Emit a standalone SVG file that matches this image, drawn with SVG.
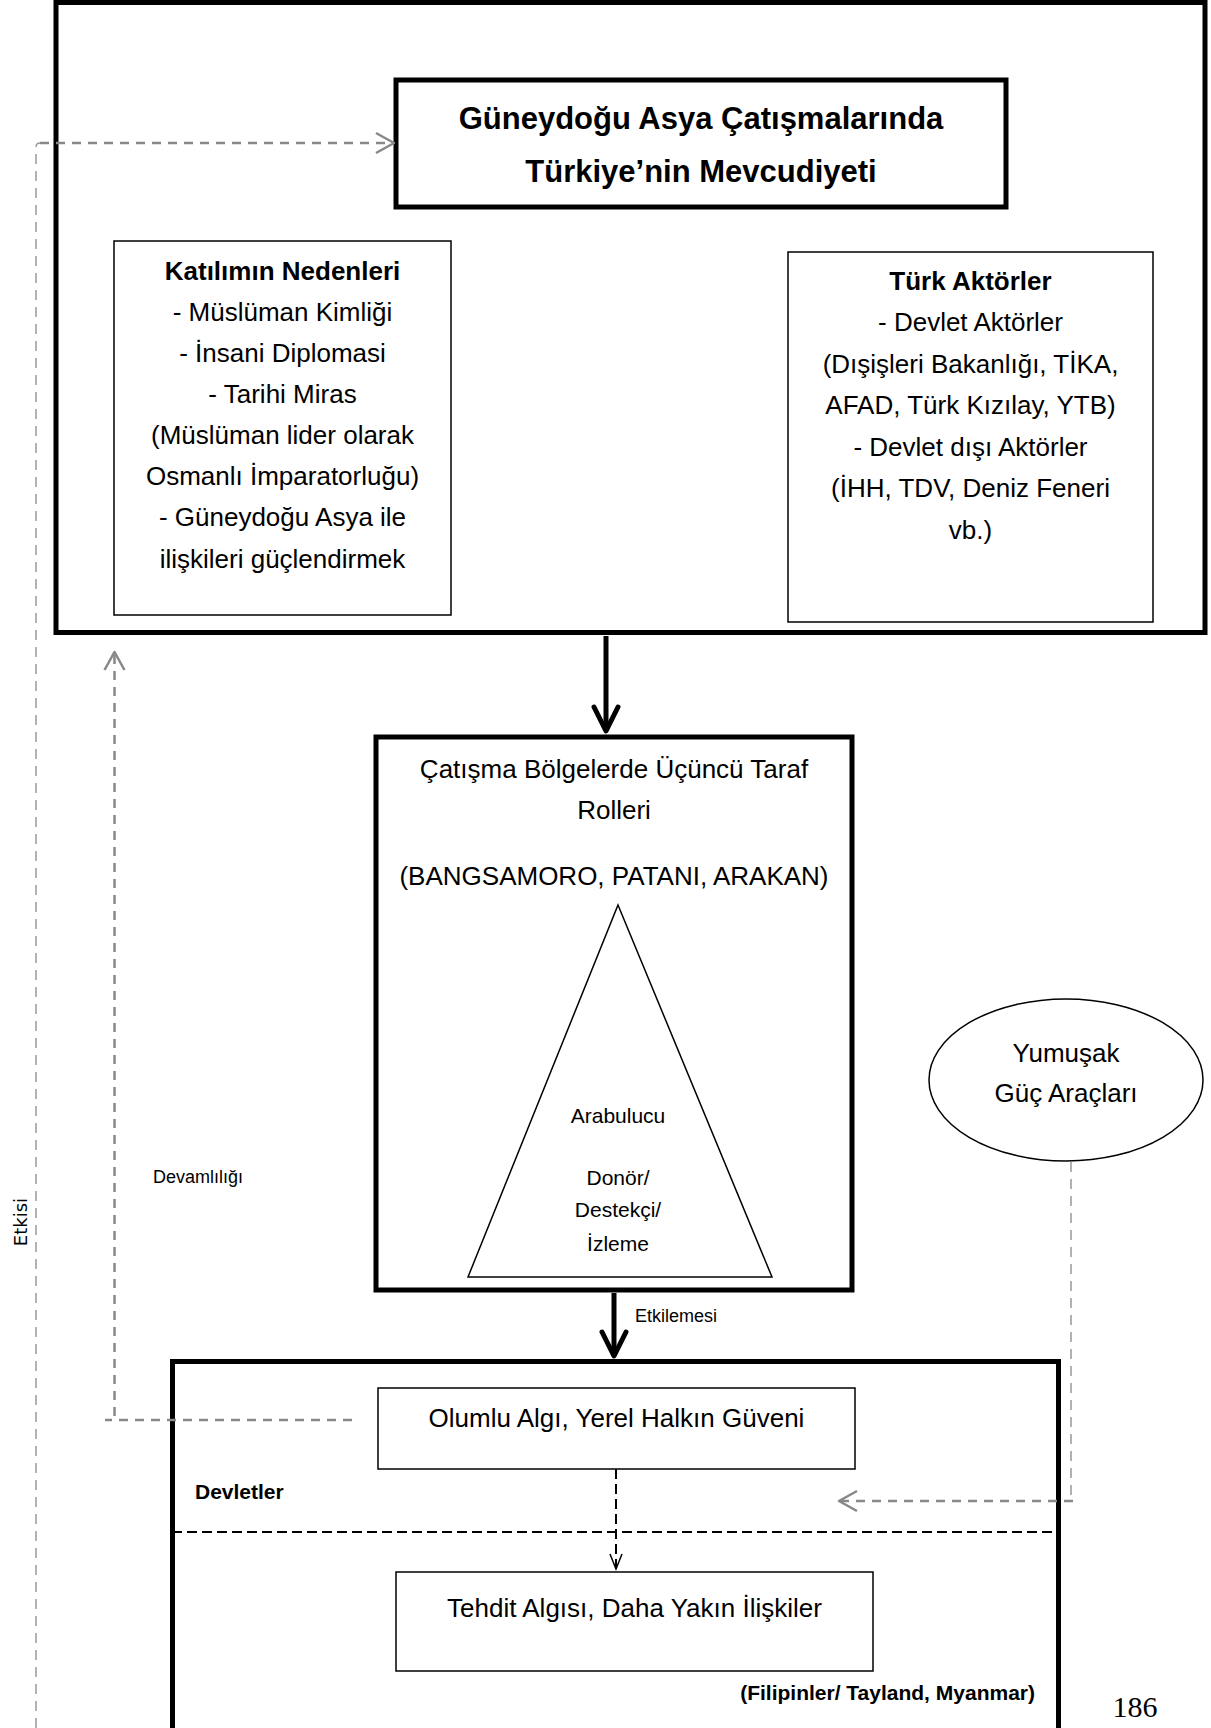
<svg xmlns="http://www.w3.org/2000/svg" width="1211" height="1728" viewBox="0 0 1211 1728">
<style>
text{font-family:"Liberation Sans",Arial,sans-serif;fill:#000}
.t26{font-size:26px;text-anchor:middle}
.b26{font-size:26px;font-weight:bold;text-anchor:middle}
.title{font-size:31px;font-weight:bold;text-anchor:middle}
.t21{font-size:21px;text-anchor:middle}
.s18{font-size:18px}
.b21{font-size:21px;font-weight:bold}
.thick{fill:#fff;stroke:#000;stroke-width:5}
.thin{fill:#fff;stroke:#000;stroke-width:1.5}
.bigarrow{fill:none;stroke:#000;stroke-width:5}
.gv{fill:none;stroke:#999;stroke-width:1.5;stroke-dasharray:10 7}
.gh{fill:none;stroke:#888;stroke-width:2.5;stroke-dasharray:9 7}
.bd{fill:none;stroke:#000;stroke-width:2;stroke-dasharray:10 5}
</style>
<defs>
<marker id="ahThick" viewBox="-30 -16 34 32" refX="0" refY="0" markerWidth="34" markerHeight="32" markerUnits="userSpaceOnUse" orient="auto">
<path d="M-24,-12 L0,0 L-24,12" fill="none" stroke="#000" stroke-width="5" stroke-linejoin="round" stroke-linecap="round"/>
</marker>
<marker id="ahGray" viewBox="-22 -13 25 26" refX="0" refY="0" markerWidth="25" markerHeight="26" markerUnits="userSpaceOnUse" orient="auto">
<path d="M-18,-10 L0,0 L-18,10" fill="none" stroke="#888" stroke-width="2.5" stroke-linejoin="round"/>
</marker>
<marker id="ahThin" viewBox="-18 -9 20 18" refX="0" refY="0" markerWidth="20" markerHeight="18" markerUnits="userSpaceOnUse" orient="auto">
<path d="M-15,-6 L0,0 L-15,6" fill="none" stroke="#000" stroke-width="1.5"/>
</marker>
</defs>
<rect width="1211" height="1728" fill="#fff"/>

<g id="top-frame">
<rect class="thick" x="56" y="2.5" width="1149" height="630"/>
</g>

<g id="title">
<rect class="thick" x="396" y="80" width="610" height="127" stroke-width="4"/>
<text class="title" x="701" y="129">Güneydoğu Asya Çatışmalarında</text>
<text class="title" x="701" y="182">Türkiye’nin Mevcudiyeti</text>
</g>

<g id="nedenler">
<rect class="thin" x="114" y="241" width="337" height="374"/>
<text class="b26" x="282.5" y="280">Katılımın Nedenleri</text>
<text class="t26" x="282.5" y="321">- Müslüman Kimliği</text>
<text class="t26" x="282.5" y="362">- İnsani Diplomasi</text>
<text class="t26" x="282.5" y="403">- Tarihi Miras</text>
<text class="t26" x="282.5" y="444">(Müslüman lider olarak</text>
<text class="t26" x="282.5" y="485">Osmanlı İmparatorluğu)</text>
<text class="t26" x="282.5" y="526">- Güneydoğu Asya ile</text>
<text class="t26" x="282.5" y="568">ilişkileri güçlendirmek</text>
</g>

<g id="aktorler">
<rect class="thin" x="788" y="252" width="365" height="370"/>
<text class="b26" x="970.5" y="290">Türk Aktörler</text>
<text class="t26" x="970.5" y="331">- Devlet Aktörler</text>
<text class="t26" x="970.5" y="373">(Dışişleri Bakanlığı, TİKA,</text>
<text class="t26" x="970.5" y="414">AFAD, Türk Kızılay, YTB)</text>
<text class="t26" x="970.5" y="456">- Devlet dışı Aktörler</text>
<text class="t26" x="970.5" y="497">(İHH, TDV, Deniz Feneri</text>
<text class="t26" x="970.5" y="539">vb.)</text>
</g>

<g id="roller">
<rect class="thick" x="376" y="737" width="476" height="553"/>
<text class="t26" x="614" y="778">Çatışma Bölgelerde Üçüncü Taraf</text>
<text class="t26" x="614" y="819">Rolleri</text>
<text class="t26" x="614" y="885">(BANGSAMORO, PATANI, ARAKAN)</text>
<polygon class="thin" stroke-width="1.2" points="618,905 772,1277 468,1277"/>
<text class="t21" x="618" y="1123">Arabulucu</text>
<text class="t21" x="618" y="1185">Donör/</text>
<text class="t21" x="618" y="1217">Destekçi/</text>
<text class="t21" x="618" y="1251">İzleme</text>
</g>

<g id="yumusak">
<ellipse class="thin" cx="1066" cy="1080" rx="137" ry="81"/>
<text class="t26" x="1066" y="1062">Yumuşak</text>
<text class="t26" x="1066" y="1102">Güç Araçları</text>
</g>

<g id="devletler">
<rect class="thick" x="172.5" y="1361.5" width="886" height="420"/>
<path class="bd" d="M172,1532 L1058,1532" stroke-dasharray="7 5"/>
<text class="b21" x="195" y="1499">Devletler</text>
<text class="b21" x="1035" y="1700" text-anchor="end">(Filipinler/ Tayland, Myanmar)</text>
</g>

<g id="olumlu">
<rect class="thin" x="378" y="1388" width="477" height="81"/>
<text class="t26" x="616.5" y="1427">Olumlu Algı, Yerel Halkın Güveni</text>
</g>

<g id="tehdit">
<rect class="thin" x="396" y="1572" width="477" height="99"/>
<text class="t26" x="634.5" y="1617">Tehdit Algısı, Daha Yakın İlişkiler</text>
</g>

<g id="connectors">
<path class="bigarrow" d="M606,636 L606,731" marker-end="url(#ahThick)"/>
<path class="bigarrow" d="M614,1293 L614,1356" marker-end="url(#ahThick)"/>
<path class="bd" d="M616,1469 L616,1569" marker-end="url(#ahThin)"/>
<path class="gv" d="M36,1728 L36,147 Q36,143 40,143"/>
<path class="gh" d="M40,143 L394,143" marker-end="url(#ahGray)"/>
<path class="gh" d="M352,1420 L105,1420" stroke-width="2" stroke-dasharray="8 6"/>
<path class="gh" d="M114.5,1416 L114.5,652" stroke-dasharray="12 7" marker-end="url(#ahGray)"/>
<path class="gv" d="M1071,1162 L1071,1501"/>
<path class="gh" d="M1073,1501 L839,1501" stroke-dasharray="12 7" marker-end="url(#ahGray)"/>
<text class="s18" x="635" y="1322">Etkilemesi</text>
<text class="s18" x="153" y="1183">Devamlılığı</text>
<text x="27" y="1222" transform="rotate(-90 27 1222)" style="font-family:'DejaVu Sans',Verdana,sans-serif;font-size:18px;text-anchor:middle">Etkisi</text>
</g>

<text x="1135" y="1717" style="font-family:'Liberation Serif','Times New Roman',serif;font-size:30px;text-anchor:middle">186</text>
</svg>
